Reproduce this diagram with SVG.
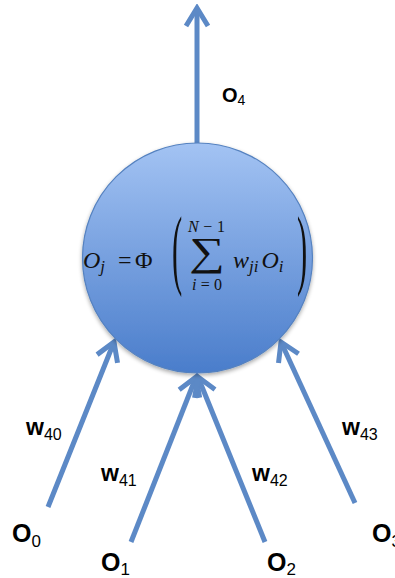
<svg xmlns="http://www.w3.org/2000/svg" width="395" height="578" viewBox="0 0 395 578">
<style>
.lbl{font-family:"Liberation Sans",Arial,sans-serif;fill:#000;font-weight:bold}
.sub{font-weight:normal}
.math{font-family:"Liberation Serif","Times New Roman",serif;fill:#111}
.edge{stroke:#5c89c6;stroke-width:5;fill:none;stroke-linecap:butt}
</style>
<defs>
<linearGradient id="g" x1="0" y1="0" x2="0" y2="1">
<stop offset="0" stop-color="#a3c3f3"/>
<stop offset="1" stop-color="#4a7dcb"/>
</linearGradient>
<marker id="ah" markerUnits="userSpaceOnUse" viewBox="-24 -14 28 28" refX="0" refY="0" markerWidth="28" markerHeight="28" orient="auto">
<path d="M-18,-11 L0,0 L-18,11" fill="none" stroke="#5c89c6" stroke-width="5" stroke-linejoin="miter"/>
</marker>
<filter id="sh" x="-10%" y="-10%" width="120%" height="125%">
<feGaussianBlur in="SourceAlpha" stdDeviation="2"/>
<feOffset dx="0" dy="2"/>
<feComponentTransfer><feFuncA type="linear" slope="0.35"/></feComponentTransfer>
<feMerge><feMergeNode/><feMergeNode in="SourceGraphic"/></feMerge>
</filter>
</defs>
<g id="connectors">
<line class="edge" x1="197" y1="143" x2="197" y2="8" marker-end="url(#ah)"/>
<line class="edge" x1="48" y1="507" x2="114" y2="342" marker-end="url(#ah)"/>
<line class="edge" x1="131" y1="542" x2="196" y2="377" marker-end="url(#ah)"/>
<line class="edge" x1="265" y1="542" x2="198" y2="377" marker-end="url(#ah)"/>
<line class="edge" x1="355" y1="503" x2="281" y2="342" marker-end="url(#ah)"/>
</g>
<g id="neuron">
<circle cx="197.5" cy="258" r="115" fill="url(#g)" stroke="#5582c0" stroke-width="1.2" filter="url(#sh)"/>
<g class="math">
<text x="83" y="268" font-size="24" font-style="italic">O<tspan font-size="17" dy="4">j</tspan></text>
<text x="118" y="268" font-size="24">=</text>
<text x="135" y="268" font-size="24">Φ</text>
<text x="0" y="0" font-size="34" transform="translate(172,278) scale(0.9,2.6)">(</text>
<text x="0" y="0" font-size="40" transform="translate(189,265) scale(1.25,1)">∑</text>
<text x="188" y="232" font-size="16" font-style="italic" textLength="37" lengthAdjust="spacing">N<tspan font-style="normal">−1</tspan></text>
<text x="192" y="290" font-size="16" textLength="30" lengthAdjust="spacing"><tspan font-style="italic">i</tspan>=0</text>
<text x="233" y="268" font-size="24" font-style="italic">w<tspan font-size="17" dy="4">ji</tspan><tspan dy="-4" dx="3">O</tspan><tspan font-size="17" dy="4">i</tspan></text>
<text x="0" y="0" font-size="34" transform="translate(297,278) scale(0.9,2.6)">)</text>
</g>
</g>
<g id="out"><text class="lbl" x="222" y="102" font-size="20">O<tspan class="sub" font-size="14" dy="3">4</tspan></text></g>
<g id="in0"><text class="lbl" x="12" y="542" font-size="25">O<tspan class="sub" font-size="17" dy="5">0</tspan></text></g>
<g id="in1"><text class="lbl" x="101" y="571" font-size="25">O<tspan class="sub" font-size="17" dy="4">1</tspan></text></g>
<g id="in2"><text class="lbl" x="267" y="571" font-size="25">O<tspan class="sub" font-size="17" dy="4">2</tspan></text></g>
<g id="in3"><text class="lbl" x="372" y="542" font-size="25">O<tspan class="sub" font-size="17" dy="5">3</tspan></text></g>
<g id="w40"><text class="lbl" x="26" y="435" font-size="23">w<tspan class="sub" font-size="16" dy="5">40</tspan></text></g>
<g id="w41"><text class="lbl" x="101" y="481" font-size="23">w<tspan class="sub" font-size="16" dy="5">41</tspan></text></g>
<g id="w42"><text class="lbl" x="252" y="481" font-size="23">w<tspan class="sub" font-size="16" dy="5">42</tspan></text></g>
<g id="w43"><text class="lbl" x="342" y="435" font-size="23">w<tspan class="sub" font-size="16" dy="5">43</tspan></text></g>
</svg>
